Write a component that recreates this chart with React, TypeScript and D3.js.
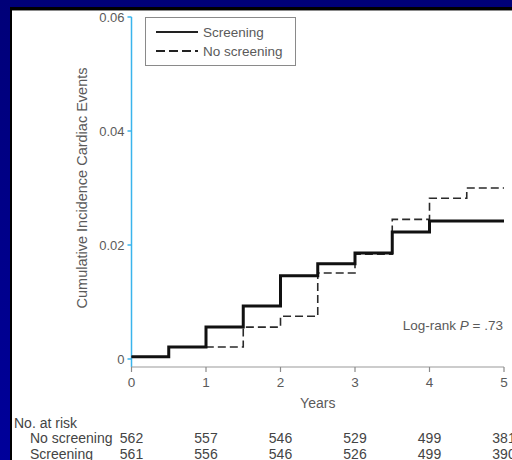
import React from "react";
import * as d3 from "d3";

const yearTicks = [0, 1, 2, 3, 4, 5];
const incidenceTicks = [0, 0.02, 0.04, 0.06];
const incidenceTickLabels = ["0", "0.02", "0.04", "0.06"];

const screeningTimes = [0, 0.5, 1, 1.5, 2, 2.5, 3, 3.5, 4, 5];
const screeningValues = [0.0004, 0.0021, 0.0056, 0.0093, 0.0146, 0.0167, 0.0186, 0.0223, 0.0242, 0.0242];

const noScreeningTimes = [0, 0.5, 1.5, 2, 2.5, 3, 3.5, 4, 4.5, 5];
const noScreeningValues = [0.0004, 0.0021, 0.0056, 0.0075, 0.0151, 0.0184, 0.0245, 0.0282, 0.03, 0.03];

const riskNoScreening = [562, 557, 546, 529, 499, 381];
const riskScreening = [561, 556, 546, 526, 499, 390];

const FONT = "'Liberation Sans', Arial, Helvetica, sans-serif";

export default function App() {
  const W = 512, H = 460;
  const x = d3.scaleLinear().domain([0, 5]).range([131.5, 504]);
  const y = d3.scaleLinear().domain([0, 0.06]).range([359, 17]);
  const line = d3
    .line<[number, number]>()
    .x((d) => x(d[0]))
    .y((d) => y(d[1]))
    .curve(d3.curveStepAfter);
  const sPts = screeningTimes.map((t, i) => [t, screeningValues[i]] as [number, number]);
  const nPts = noScreeningTimes.map((t, i) => [t, noScreeningValues[i]] as [number, number]);
  const axisY = 367;
  const axisBlue = "#3ab4ec";
  const grey = "#5a5a5a";

  return (
    <svg width={W} height={H} style={{ position: "absolute", left: 0, top: 0 }} fontFamily={FONT}>
      <defs>
        <linearGradient id="bg" x1="0" y1="0" x2="0" y2="1">
          <stop offset="0" stopColor="#000078" />
          <stop offset="1" stopColor="#00009a" />
        </linearGradient>
      </defs>
      <rect x={0} y={0} width={W} height={H} fill="url(#bg)" />
      <rect x={10} y={7} width={W} height={H} fill="#000000" />
      <rect x={12} y={10} width={W} height={H} fill="#ffffff" />
      <line x1={12} x2={W} y1={10.5} y2={10.5} stroke="#8a8a8a" strokeWidth={1} />

      {/* y axis */}
      <line x1={x(0)} x2={x(0)} y1={y(0.06)} y2={axisY} stroke={axisBlue} strokeWidth={1.5} />
      {incidenceTicks.map((t, i) => (
        <g key={t}>
          <line x1={x(0) - 4} x2={x(0)} y1={y(t)} y2={y(t)} stroke={axisBlue} strokeWidth={1.5} />
          <text x={x(0) - 7} y={y(t) + 4.5} fontSize={13} fill={grey} textAnchor="end">
            {incidenceTickLabels[i]}
          </text>
        </g>
      ))}
      <text
        transform={`translate(87, 188) rotate(-90)`}
        fontSize={14.5}
        fill={grey}
        textAnchor="middle"
      >
        Cumulative Incidence Cardiac Events
      </text>

      {/* x axis */}
      <line x1={x(0)} x2={x(5)} y1={axisY} y2={axisY} stroke="#9a9a9a" strokeWidth={1.2} />
      {yearTicks.map((t) => (
        <g key={t}>
          <line x1={x(t)} x2={x(t)} y1={axisY} y2={axisY + 5} stroke="#8a8a8a" strokeWidth={1.2} />
          <text x={x(t)} y={axisY + 20} fontSize={13.5} fill={grey} textAnchor="middle">
            {t}
          </text>
        </g>
      ))}
      <text x={x(2.5)} y={408} fontSize={14} fill={grey} textAnchor="middle">
        Years
      </text>

      {/* curves */}
      <path d={line(nPts) || ""} fill="none" stroke="#2a2a2a" strokeWidth={1.6} strokeDasharray="8,4" />
      <path d={line(sPts) || ""} fill="none" stroke="#111111" strokeWidth={3} />

      {/* legend */}
      <rect x={145.5} y={17.5} width={150} height={48} fill="#ffffff" stroke="#8a8a8a" strokeWidth={1} />
      <line x1={156} x2={198} y1={32} y2={32} stroke="#222" strokeWidth={1.8} />
      <line x1={156} x2={198} y1={51} y2={51} stroke="#222" strokeWidth={1.8} strokeDasharray="9,4" />
      <text x={203} y={36.5} fontSize={13.5} fill={grey}>Screening</text>
      <text x={203} y={55.5} fontSize={13.5} fill={grey}>No screening</text>

      {/* log-rank */}
      <text x={503} y={330} fontSize={13.5} fill={grey} textAnchor="end">
        Log-rank <tspan fontStyle="italic">P</tspan> = .73
      </text>

      {/* risk table */}
      <text x={14} y={428} fontSize={14} fill="#444">No. at risk</text>
      <text x={30} y={443} fontSize={14} fill="#444">No screening</text>
      <text x={30} y={459} fontSize={14} fill="#444">Screening</text>
      {riskNoScreening.map((v, i) => (
        <text key={"n" + i} x={x(yearTicks[i])} y={443} fontSize={14} fill="#444" textAnchor="middle">
          {v}
        </text>
      ))}
      {riskScreening.map((v, i) => (
        <text key={"s" + i} x={x(yearTicks[i])} y={459} fontSize={14} fill="#444" textAnchor="middle">
          {v}
        </text>
      ))}
    </svg>
  );
}
